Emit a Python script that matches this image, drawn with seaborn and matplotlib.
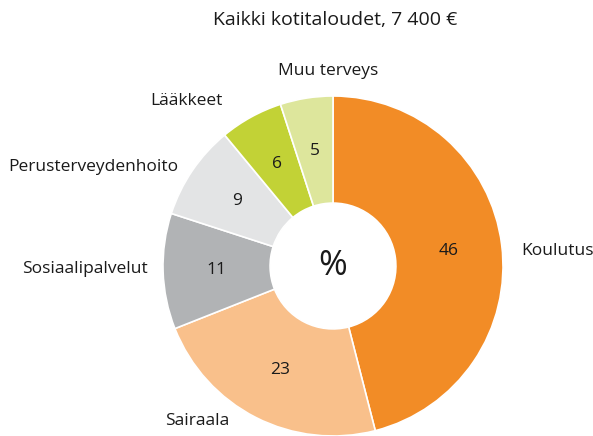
import numpy as np
import matplotlib
matplotlib.use("Agg")
import matplotlib.pyplot as plt
import seaborn as sns

# data
categories = ["Koulutus", "Sairaala", "Sosiaalipalvelut", "Perusterveydenhoito", "Lääkkeet", "Muu terveys"]
shares = [46, 23, 11, 9, 6, 5]
colors = ["#F28C26", "#F9C08B", "#B1B3B5", "#E3E4E5", "#C2D236", "#DDE69C"]
title = "Kaikki kotitaloudet, 7 400 €"

sns.set_theme(style="white")
plt.rcParams["font.family"] = ["Open Sans", "DejaVu Sans"]

fig = plt.figure(figsize=(5.93, 4.36), dpi=100)
ax = fig.add_axes([163 / 593, 0.0, 340 / 593, 340 / 436])

inner = 0.37
wedges, _ = ax.pie(shares, colors=colors, startangle=90, counterclock=False,
                   radius=1, wedgeprops=dict(width=1 - inner, edgecolor="white", linewidth=1.2))

# value labels inside the ring
r_lab = (1 + inner) / 2
for w, v in zip(wedges, shares):
    ang = np.deg2rad((w.theta1 + w.theta2) / 2)
    ax.text(r_lab * np.cos(ang), r_lab * np.sin(ang), str(v),
            ha="center", va="center", fontsize=12.5, color="#1a1a1a")

# category labels outside
label_pos = {
    "Koulutus": (1.11, 0.09, "left"),
    "Sairaala": (-0.99, -0.91, "left"),
    "Sosiaalipalvelut": (-1.09, -0.02, "right"),
    "Perusterveydenhoito": (-0.91, 0.58, "right"),
    "Lääkkeet": (-0.65, 0.97, "right"),
    "Muu terveys": (-0.03, 1.15, "center"),
}
for c in categories:
    x, y, ha = label_pos[c]
    ax.text(x, y, c, ha=ha, va="center", fontsize=12.5, color="#1a1a1a")

ax.text(0, 0, "%", ha="center", va="center", fontsize=25, color="#1a1a1a")

ax.set_xlim(-1, 1)
ax.set_ylim(-1, 1)
ax.set_aspect("equal")
ax.axis("off")

fig.text(335 / 593, 1 - 20 / 436, title, ha="center", va="center", fontsize=14, color="#1a1a1a")

fig.savefig("out.png", dpi=100)
